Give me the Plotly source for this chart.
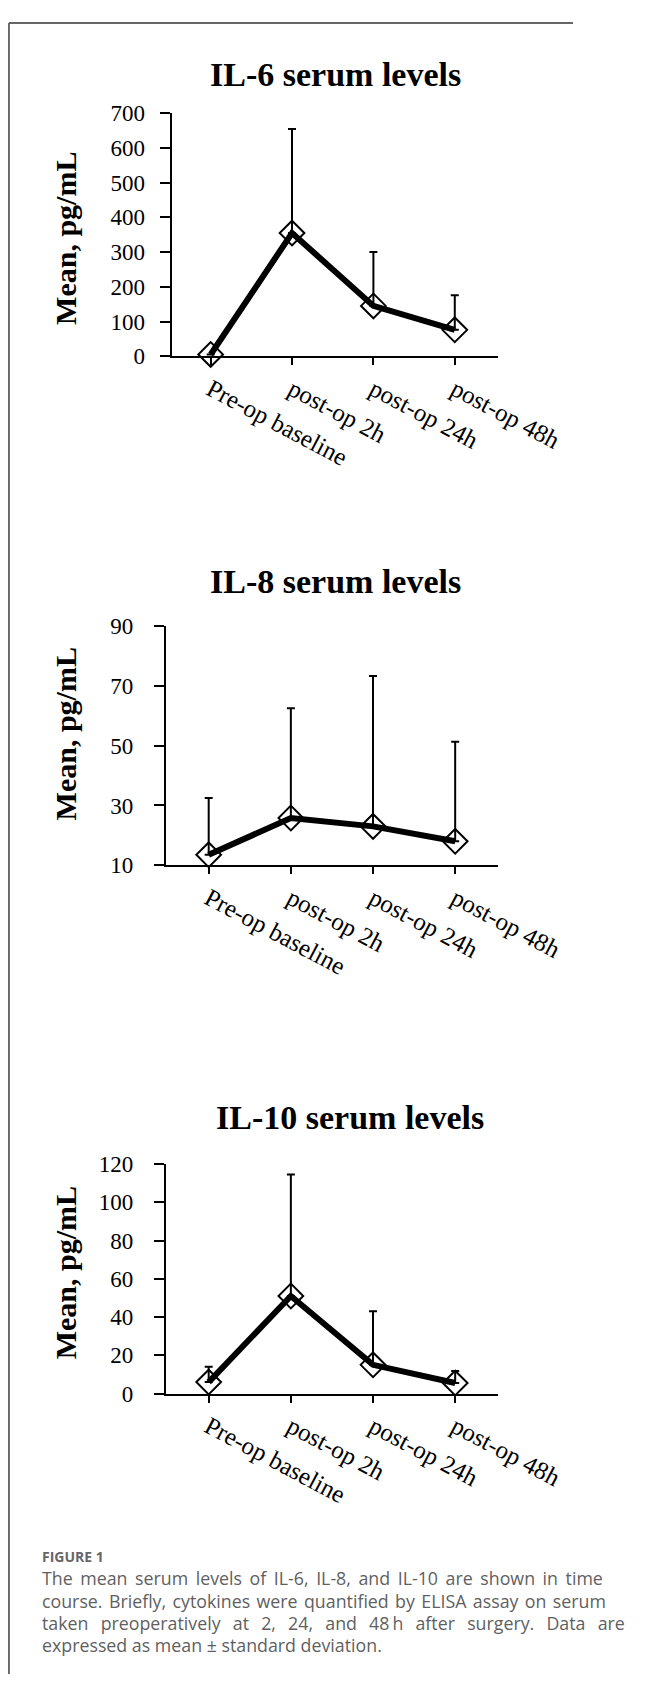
import plotly.graph_objects as go

# Page is 648x1695; the browser body keeps its default 8px margin,
# so the figure is drawn 8px in from the page corner and sized to fit.
PAGE_W, PAGE_H = 648, 1695
OFF = 8
W, H = PAGE_W - 2 * OFF, PAGE_H - 2 * OFF

categories = ["Pre-op baseline", "post-op 2h", "post-op 24h", "post-op 48h"]

il6_mean = [5, 355, 145, 76]
il6_sd = [0, 300, 155, 100]

il8_mean = [13.5, 25.8, 23, 18]
il8_sd = [19, 36.7, 50.3, 33.3]

il10_mean = [6, 51, 15, 5.5]
il10_sd = [8, 63.5, 28, 6.3]

panel_titles = ["IL-6 serum levels", "IL-8 serum levels", "IL-10 serum levels"]
y_title = "Mean, pg/mL"
y_ranges = [[0, 700], [10, 90], [0, 120]]
y_dticks = [100, 20, 20]

caption_head = "FIGURE 1"
caption_words = [
    ["The", "mean", "serum", "levels", "of", "IL-6,", "IL-8,", "and", "IL-10", "are", "shown", "in", "time"],
    ["course.", "Briefly,", "cytokines", "were", "quantified", "by", "ELISA", "assay", "on", "serum"],
    ["taken", "preoperatively", "at", "2,", "24,", "and", "48\u2009h", "after", "surgery.", "Data", "are"],
    ["expressed", "as", "mean", "\u00b1", "standard", "deviation."],
]
# inter-word gap used to imitate the justified caption
caption_gaps = [" \u2009", " \u200a", " \u00a0\u2009", " "]


def px(x):
    return (x - OFF) / W


def py(y):
    return 1 - (y - OFF) / H


# page-pixel geometry of each panel
panels = [
    dict(xl=191, xr=556, yb=349.3, yt=102.7, xrng=[-0.48, 3.53], tx=374, ty=63, yty=230, stand=10),
    dict(xl=184.7, xr=556, yb=866, yt=623.3, xrng=[-0.52, 3.52], tx=374, ty=578, yty=733, stand=16),
    dict(xl=184.7, xr=556, yb=1402.3, yt=1169.3, xrng=[-0.52, 3.52], tx=390, ty=1122, yty=1280, stand=16),
]

means = [il6_mean, il8_mean, il10_mean]
sds = [il6_sd, il8_sd, il10_sd]

fig = go.Figure()

serif = "Liberation Serif, Times New Roman, serif"

for i, p in enumerate(panels):
    n = "" if i == 0 else str(i + 1)
    fig.add_trace(go.Scatter(
        x=categories, y=means[i],
        xaxis="x" + n, yaxis="y" + n,
        mode="lines+markers",
        line=dict(color="black", width=6),
        marker=dict(symbol="diamond-open", size=19, color="black",
                    line=dict(width=2, color="black")),
        error_y=dict(type="data", symmetric=False, array=sds[i],
                     arrayminus=[0] * len(sds[i]), color="black",
                     thickness=2, width=4),
        showlegend=False, cliponaxis=False,
    ))
    fig.update_layout(**{
        "xaxis" + n: dict(
            domain=[px(p["xl"]), px(p["xr"])], anchor="y" + n, type="category",
            range=p["xrng"], showline=True, linecolor="black", linewidth=2,
            ticks="outside", ticklen=7, tickwidth=2, tickcolor="black",
            tickangle=28, showgrid=False, zeroline=False,
            tickfont=dict(family=serif, size=25, color="black"),
            ticklabelstandoff=0,
        ),
        "yaxis" + n: dict(
            domain=[py(p["yb"]), py(p["yt"])], anchor="x" + n,
            range=y_ranges[i], dtick=y_dticks[i], tick0=y_ranges[i][0],
            showline=True, linecolor="black", linewidth=2,
            ticks="outside", ticklen=10, tickwidth=2, tickcolor="black",
            showgrid=False, zeroline=False,
            tickfont=dict(family=serif, size=23, color="black"),
            ticklabelstandoff=p["stand"],
        ),
    })
    fig.add_annotation(x=px(p["tx"]), y=py(p["ty"]), xref="paper", yref="paper",
                       text="<b>" + panel_titles[i] + "</b>", showarrow=False,
                       xanchor="center", yanchor="middle",
                       font=dict(family=serif, size=34, color="black"))
    fig.add_annotation(x=px(72), y=py(p["yty"]), xref="paper", yref="paper",
                       text="<b>" + y_title + "</b>", showarrow=False,
                       textangle=-90, xanchor="center", yanchor="middle",
                       font=dict(family=serif, size=30, color="black"))

# caption
cap_font = "Open Sans, Noto Sans, sans-serif"
fig.add_annotation(x=px(44), y=py(1568), xref="paper", yref="paper",
                   text="<b>" + caption_head + "</b>", showarrow=False,
                   xanchor="left", yanchor="middle",
                   font=dict(family=cap_font, size=14, color="#666666"))
for k, words in enumerate(caption_words):
    fig.add_annotation(x=px(44), y=py(1590 + 22.5 * k), xref="paper", yref="paper",
                       text=caption_gaps[k].join(words), showarrow=False,
                       xanchor="left", yanchor="middle",
                       font=dict(family=cap_font, size=17.8, color="#5f5f5f"))

# page frame (top and left rules)
fig.add_shape(type="line", xref="paper", yref="paper",
              x0=px(9), x1=1, y0=py(11), y1=py(11),
              line=dict(color="#666666", width=2))
fig.add_shape(type="line", xref="paper", yref="paper",
              x0=px(9), x1=px(9), y0=py(11), y1=0,
              line=dict(color="#666666", width=2))

fig.update_layout(width=W, height=H, margin=dict(l=0, r=0, t=0, b=0),
                  paper_bgcolor="white", plot_bgcolor="white")

fig.write_html("out.html")
